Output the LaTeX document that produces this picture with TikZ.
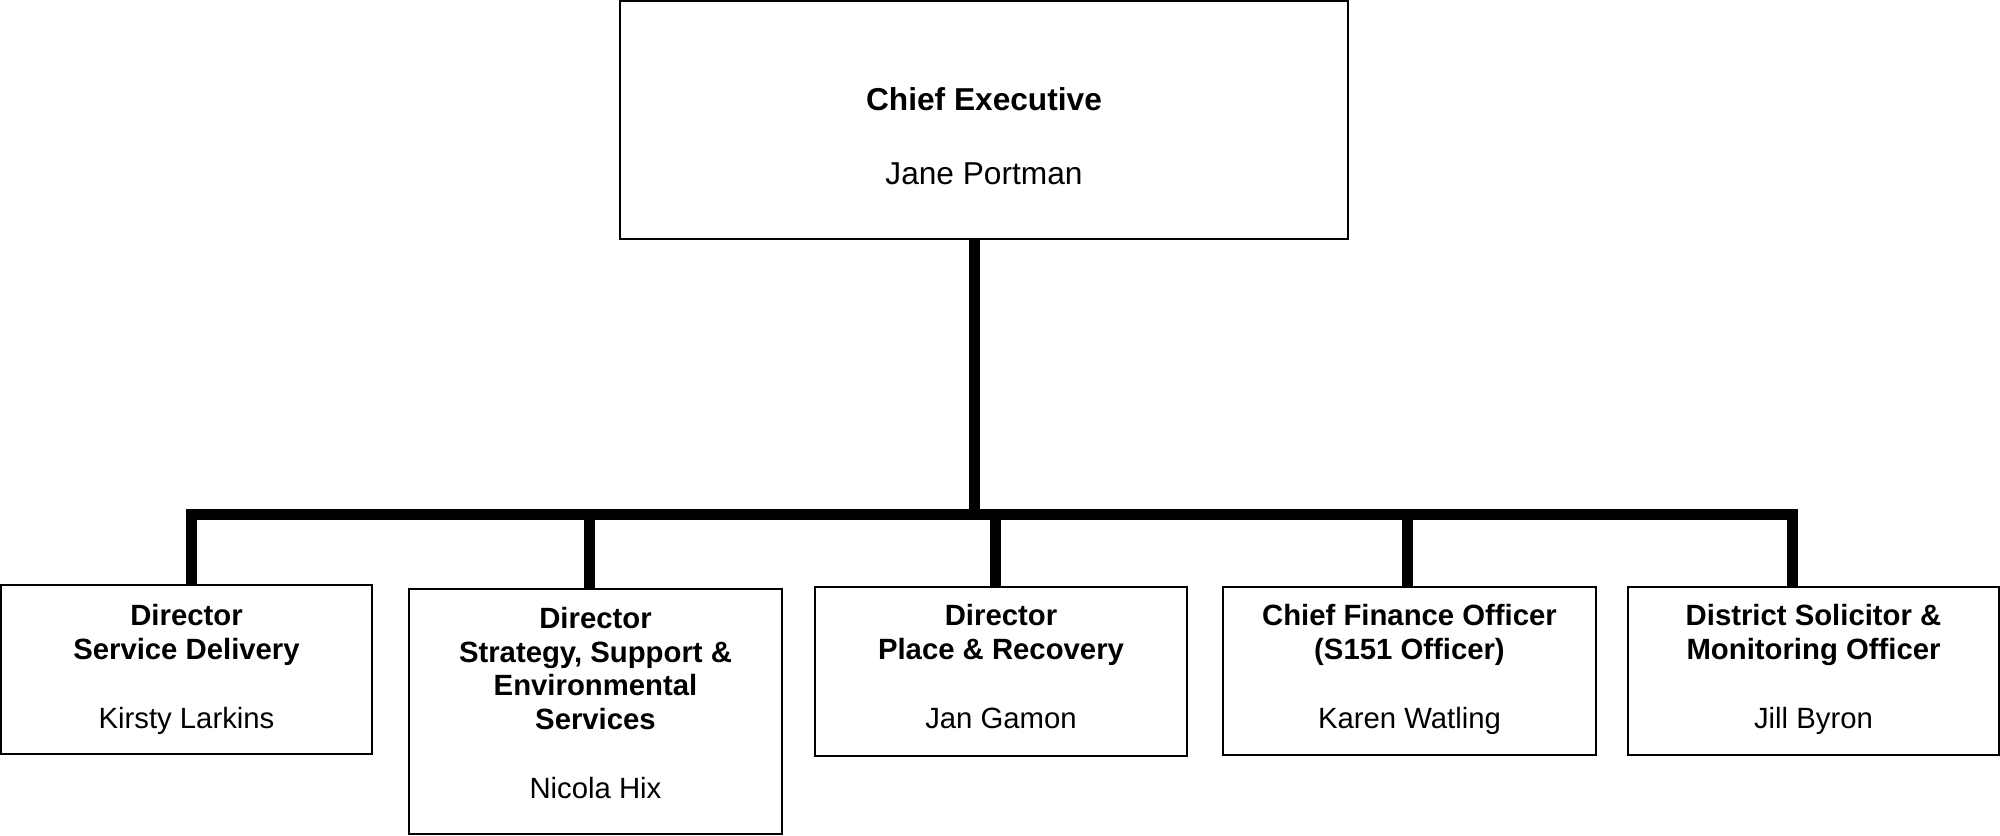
\documentclass[tikz,border=0pt]{standalone}
\usepackage{fontspec}
\setmainfont{Liberation Sans}
\newcommand\smallf{\fontsize{10.55pt}{12.06pt}\selectfont}
\newcommand\bigf{\fontsize{11.4pt}{13.2pt}\selectfont}
\begin{document}
\begin{tikzpicture}[x=0.36pt,y=-0.36pt,
  box/.style={draw=black,line width=0.72pt,inner sep=0pt,fill=white},
  txt/.style={align=center,inner sep=0pt,anchor=north,font=\smallf},
  conn/.style={line width=3.96pt,black}]
\useasboundingbox (0,0) rectangle (2000,835);
% boxes
\node[box,minimum width=262.08pt,minimum height=85.68pt] (ceo) at (984,120) {};
\node[box,minimum width=133.56pt,minimum height=60.84pt] (b1) at (186.5,669.5) {};
\node[box,minimum width=134.28pt,minimum height=88.2pt] (b2) at (595.5,711.5) {};
\node[box,minimum width=133.92pt,minimum height=60.84pt] (b3) at (1001,671.5) {};
\node[box,minimum width=134.28pt,minimum height=60.48pt] (b4) at (1409.5,671) {};
\node[box,minimum width=133.56pt,minimum height=60.48pt] (b5) at (1813.5,671) {};
% texts
\node[txt,font=\bigf] (tceo) at (984,87) {\textbf{Chief Executive}\\[13.4pt]Jane Portman};
\node[txt] (t1) at (186.5,604) {\textbf{Director}\\\textbf{Service Delivery}\\[12.8pt]Kirsty Larkins};
\node[txt] (t2) at (595.5,607) {\textbf{Director}\\\textbf{Strategy, Support \&}\\\textbf{Environmental}\\\textbf{Services}\\[12.8pt]Nicola Hix};
\node[txt] (t3) at (1001,604) {\textbf{Director}\\\textbf{Place \& Recovery}\\[12.8pt]Jan Gamon};
\node[txt] (t4) at (1409.5,604) {\textbf{Chief Finance Officer}\\\textbf{(S151 Officer)}\\[12.8pt]Karen Watling};
\node[txt] (t5) at (1813.5,604) {\textbf{District Solicitor \&}\\\textbf{Monitoring Officer}\\[12.8pt]Jill Byron};
% connectors
\coordinate (bar1) at (191.5,514);
\coordinate (bar2) at (589,514);
\coordinate (barc) at (974,514);
\coordinate (bar3) at (995,514);
\coordinate (bar4) at (1407.5,514);
\coordinate (bar5) at (1792,514);
\draw[conn] (b1.north -| bar1) -- (bar1) -- (bar5) -- (b5.north -| bar5);
\draw[conn] (ceo.south -| barc) -- (barc);
\draw[conn] (bar2) -- (b2.north -| bar2);
\draw[conn] (bar3) -- (b3.north -| bar3);
\draw[conn] (bar4) -- (b4.north -| bar4);
\end{tikzpicture}
\end{document}
